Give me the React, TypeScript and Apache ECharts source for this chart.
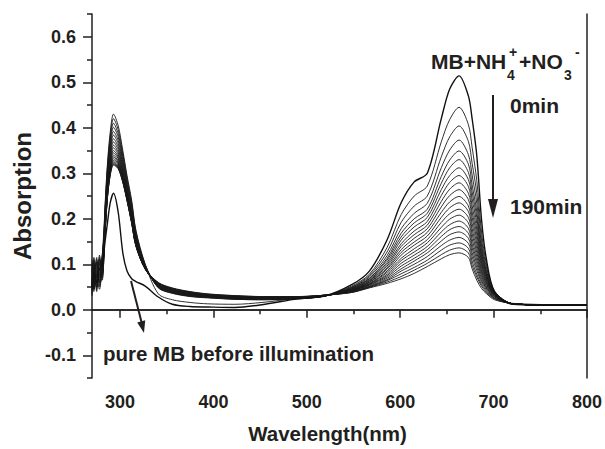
import React, { useEffect, useRef } from "react";
import * as echarts from "echarts";

// wavelength grid (nm) shared by every spectrum
const WAVELENGTH_NM = [270, 272, 275, 278, 281, 284, 286.5, 289.5, 293, 298, 303, 307.5, 312.5, 317, 327, 341, 356, 375, 394, 423, 452, 490, 519, 548, 567, 586, 601, 615, 629, 644, 653, 663, 673, 677, 682, 687, 692, 701, 721, 778, 800];

// pure MB before illumination
const PURE_MB = [0.05, 0.08, 0.06, 0.09, 0.1, 0.15, 0.19, 0.235, 0.256, 0.215, 0.125, 0.085, 0.068, 0.062, 0.052, 0.028, 0.012, 0.007, 0.006, 0.005, 0.011, 0.024, 0.03, 0.055, 0.085, 0.154, 0.235, 0.281, 0.3, 0.42, 0.485, 0.514, 0.47, 0.42, 0.339, 0.2, 0.115, 0.04, 0.012, 0.01, 0.01];

// MB + NH4+ + NO3- under illumination, 0 .. 190 min
const MIN_0 = [0.055, 0.095, 0.07, 0.11, 0.085, 0.23, 0.32, 0.39, 0.43, 0.405, 0.35, 0.295, 0.24, 0.175, 0.1, 0.035, 0.022, 0.016, 0.013, 0.012, 0.016, 0.025, 0.03, 0.052, 0.078, 0.137, 0.209, 0.25, 0.272, 0.369, 0.418, 0.445, 0.407, 0.357, 0.284, 0.173, 0.104, 0.041, 0.013, 0.01, 0.01];
const MIN_10 = [0.08, 0.06, 0.105, 0.075, 0.12, 0.225, 0.313, 0.381, 0.42, 0.396, 0.343, 0.29, 0.235, 0.172, 0.099, 0.048, 0.036, 0.029, 0.026, 0.023, 0.022, 0.024, 0.03, 0.05, 0.075, 0.127, 0.192, 0.228, 0.25, 0.336, 0.38, 0.404, 0.37, 0.322, 0.256, 0.157, 0.096, 0.04, 0.013, 0.01, 0.01];
const MIN_20 = [0.04, 0.1, 0.065, 0.095, 0.09, 0.219, 0.306, 0.373, 0.41, 0.387, 0.337, 0.284, 0.23, 0.168, 0.098, 0.049, 0.037, 0.03, 0.027, 0.023, 0.022, 0.024, 0.03, 0.049, 0.072, 0.119, 0.178, 0.212, 0.234, 0.312, 0.351, 0.373, 0.341, 0.296, 0.234, 0.145, 0.089, 0.038, 0.013, 0.01, 0.01];
const MIN_30 = [0.09, 0.05, 0.115, 0.06, 0.105, 0.215, 0.3, 0.365, 0.401, 0.38, 0.33, 0.279, 0.226, 0.165, 0.097, 0.049, 0.037, 0.03, 0.027, 0.024, 0.023, 0.025, 0.03, 0.048, 0.069, 0.113, 0.168, 0.2, 0.221, 0.293, 0.329, 0.349, 0.32, 0.275, 0.216, 0.135, 0.085, 0.037, 0.013, 0.01, 0.01];
const MIN_40 = [0.065, 0.11, 0.045, 0.1, 0.08, 0.21, 0.294, 0.357, 0.392, 0.372, 0.325, 0.275, 0.222, 0.162, 0.096, 0.05, 0.038, 0.031, 0.028, 0.024, 0.023, 0.025, 0.03, 0.047, 0.068, 0.109, 0.16, 0.191, 0.212, 0.278, 0.312, 0.33, 0.302, 0.259, 0.203, 0.128, 0.081, 0.037, 0.013, 0.01, 0.01];
const MIN_50 = [0.1, 0.07, 0.09, 0.05, 0.115, 0.205, 0.288, 0.351, 0.384, 0.365, 0.319, 0.27, 0.218, 0.16, 0.094, 0.051, 0.039, 0.031, 0.028, 0.025, 0.024, 0.025, 0.03, 0.046, 0.066, 0.104, 0.153, 0.182, 0.203, 0.264, 0.295, 0.312, 0.286, 0.244, 0.19, 0.12, 0.078, 0.036, 0.013, 0.01, 0.01];
const MIN_60 = [0.035, 0.085, 0.06, 0.12, 0.07, 0.201, 0.283, 0.344, 0.376, 0.358, 0.314, 0.266, 0.214, 0.157, 0.094, 0.051, 0.039, 0.032, 0.029, 0.025, 0.024, 0.025, 0.031, 0.045, 0.064, 0.1, 0.145, 0.173, 0.194, 0.251, 0.28, 0.295, 0.271, 0.229, 0.177, 0.114, 0.074, 0.036, 0.013, 0.01, 0.01];
const MIN_70 = [0.075, 0.045, 0.1, 0.065, 0.11, 0.197, 0.278, 0.338, 0.369, 0.352, 0.309, 0.262, 0.211, 0.155, 0.093, 0.052, 0.04, 0.033, 0.029, 0.026, 0.024, 0.026, 0.031, 0.045, 0.063, 0.096, 0.139, 0.165, 0.186, 0.238, 0.265, 0.279, 0.256, 0.215, 0.166, 0.107, 0.071, 0.035, 0.013, 0.01, 0.01];
const MIN_80 = [0.11, 0.08, 0.055, 0.09, 0.095, 0.194, 0.273, 0.332, 0.362, 0.346, 0.305, 0.259, 0.208, 0.152, 0.092, 0.053, 0.041, 0.033, 0.03, 0.026, 0.025, 0.026, 0.031, 0.044, 0.061, 0.092, 0.132, 0.157, 0.178, 0.226, 0.251, 0.264, 0.242, 0.203, 0.155, 0.102, 0.068, 0.034, 0.013, 0.01, 0.01];
const MIN_90 = [0.05, 0.115, 0.075, 0.045, 0.1, 0.19, 0.269, 0.326, 0.356, 0.341, 0.301, 0.256, 0.205, 0.151, 0.091, 0.053, 0.041, 0.034, 0.03, 0.027, 0.025, 0.026, 0.031, 0.043, 0.06, 0.089, 0.126, 0.149, 0.17, 0.214, 0.237, 0.249, 0.228, 0.19, 0.145, 0.096, 0.065, 0.033, 0.013, 0.01, 0.01];
const MIN_100 = [0.085, 0.06, 0.11, 0.08, 0.075, 0.187, 0.265, 0.321, 0.35, 0.336, 0.297, 0.253, 0.203, 0.148, 0.091, 0.054, 0.042, 0.035, 0.031, 0.027, 0.026, 0.027, 0.031, 0.043, 0.058, 0.085, 0.12, 0.142, 0.162, 0.203, 0.224, 0.235, 0.216, 0.178, 0.135, 0.09, 0.062, 0.033, 0.013, 0.01, 0.01];
const MIN_110 = [0.03, 0.09, 0.05, 0.105, 0.085, 0.185, 0.262, 0.317, 0.345, 0.332, 0.294, 0.25, 0.2, 0.147, 0.09, 0.055, 0.043, 0.035, 0.031, 0.027, 0.026, 0.027, 0.031, 0.042, 0.057, 0.082, 0.113, 0.134, 0.154, 0.192, 0.211, 0.221, 0.203, 0.167, 0.126, 0.085, 0.059, 0.032, 0.013, 0.01, 0.01];
const MIN_120 = [0.095, 0.04, 0.085, 0.07, 0.12, 0.182, 0.258, 0.313, 0.34, 0.327, 0.291, 0.248, 0.198, 0.146, 0.09, 0.055, 0.043, 0.036, 0.032, 0.028, 0.026, 0.027, 0.031, 0.042, 0.056, 0.078, 0.108, 0.127, 0.147, 0.181, 0.199, 0.208, 0.191, 0.156, 0.117, 0.08, 0.056, 0.031, 0.013, 0.01, 0.01];
const MIN_130 = [0.06, 0.105, 0.04, 0.115, 0.065, 0.18, 0.256, 0.309, 0.336, 0.324, 0.289, 0.246, 0.197, 0.144, 0.09, 0.056, 0.044, 0.036, 0.032, 0.028, 0.027, 0.027, 0.031, 0.041, 0.055, 0.075, 0.102, 0.12, 0.139, 0.171, 0.187, 0.195, 0.179, 0.145, 0.109, 0.075, 0.053, 0.03, 0.013, 0.01, 0.01];
const MIN_140 = [0.07, 0.055, 0.095, 0.06, 0.11, 0.178, 0.253, 0.306, 0.332, 0.321, 0.287, 0.245, 0.195, 0.143, 0.09, 0.057, 0.045, 0.037, 0.032, 0.029, 0.027, 0.028, 0.032, 0.041, 0.054, 0.072, 0.096, 0.113, 0.132, 0.161, 0.176, 0.183, 0.168, 0.136, 0.101, 0.07, 0.05, 0.029, 0.013, 0.01, 0.01];
const MIN_150 = [0.045, 0.1, 0.07, 0.09, 0.08, 0.175, 0.251, 0.303, 0.328, 0.318, 0.284, 0.243, 0.193, 0.142, 0.089, 0.057, 0.045, 0.038, 0.033, 0.029, 0.027, 0.028, 0.032, 0.04, 0.052, 0.069, 0.09, 0.107, 0.125, 0.151, 0.165, 0.171, 0.157, 0.126, 0.093, 0.065, 0.048, 0.028, 0.013, 0.01, 0.01];
const MIN_160 = [0.105, 0.065, 0.05, 0.11, 0.095, 0.174, 0.249, 0.301, 0.325, 0.315, 0.283, 0.242, 0.192, 0.141, 0.089, 0.058, 0.046, 0.038, 0.033, 0.03, 0.028, 0.028, 0.032, 0.039, 0.051, 0.066, 0.085, 0.1, 0.117, 0.141, 0.153, 0.159, 0.146, 0.117, 0.086, 0.061, 0.045, 0.026, 0.013, 0.01, 0.01];
const MIN_170 = [0.055, 0.085, 0.105, 0.055, 0.075, 0.172, 0.247, 0.298, 0.322, 0.313, 0.281, 0.241, 0.191, 0.141, 0.09, 0.059, 0.047, 0.039, 0.034, 0.03, 0.028, 0.028, 0.032, 0.039, 0.05, 0.064, 0.079, 0.093, 0.109, 0.131, 0.142, 0.147, 0.135, 0.107, 0.078, 0.056, 0.042, 0.025, 0.013, 0.01, 0.01];
const MIN_180 = [0.09, 0.045, 0.08, 0.1, 0.115, 0.171, 0.246, 0.297, 0.32, 0.311, 0.281, 0.24, 0.19, 0.14, 0.09, 0.059, 0.047, 0.039, 0.034, 0.031, 0.029, 0.029, 0.032, 0.038, 0.049, 0.061, 0.073, 0.087, 0.102, 0.121, 0.131, 0.136, 0.125, 0.098, 0.072, 0.052, 0.039, 0.024, 0.013, 0.01, 0.01];
const MIN_190 = [0.065, 0.095, 0.06, 0.075, 0.09, 0.17, 0.245, 0.295, 0.318, 0.31, 0.28, 0.24, 0.19, 0.14, 0.09, 0.06, 0.048, 0.04, 0.035, 0.031, 0.029, 0.029, 0.032, 0.038, 0.048, 0.058, 0.068, 0.08, 0.095, 0.112, 0.121, 0.125, 0.115, 0.09, 0.065, 0.047, 0.036, 0.022, 0.014, 0.011, 0.011];

const TIMES_MIN = [0, 10, 20, 30, 40, 50, 60, 70, 80, 90, 100, 110, 120, 130, 140, 150, 160, 170, 180, 190];
const TIME_CURVES = [MIN_0, MIN_10, MIN_20, MIN_30, MIN_40, MIN_50, MIN_60, MIN_70, MIN_80, MIN_90, MIN_100, MIN_110, MIN_120, MIN_130, MIN_140, MIN_150, MIN_160, MIN_170, MIN_180, MIN_190];

const X_MAJOR_TICKS = [300, 400, 500, 600, 700, 800];
const X_MINOR_TICKS = [350, 450, 550, 650, 750];
const Y_MAJOR_TICKS = [-0.1, 0, 0.1, 0.2, 0.3, 0.4, 0.5, 0.6];
const Y_MINOR_TICKS = [-0.15, -0.05, 0.05, 0.15, 0.25, 0.35, 0.45, 0.55, 0.65];

const FONT = "'Liberation Sans', Arial, Helvetica, sans-serif";
const INK = "#231f20";

export default function App() {
  const ref = useRef<HTMLDivElement>(null);

  useEffect(() => {
    if (!ref.current) return;
    const chart = echarts.init(ref.current, undefined, { renderer: "svg" });

    const toPairs = (vals: number[]) => WAVELENGTH_NM.map((x, i) => [x, vals[i]]);

    const series: any[] = TIME_CURVES.map((vals, i) => ({
      type: "line",
      name: `${TIMES_MIN[i]}min`,
      data: toPairs(vals),
      symbol: "none",
      smooth: 0.3,
      silent: true,
      lineStyle: { color: "#1a1a1a", width: 0.9 },
      z: 2,
    }));
    series.push({
      type: "line",
      name: "pure MB",
      data: toPairs(PURE_MB),
      symbol: "none",
      smooth: 0.3,
      silent: true,
      lineStyle: { color: "#111", width: 1.4 },
      z: 3,
    });

    const bold = (size: number) => `bold ${size}px ${FONT}`;

    const option: any = {
      animation: false,
      backgroundColor: "#fff",
      grid: { left: 92, right: 16, top: 14, bottom: 69, containLabel: false },
      xAxis: [
        {
          type: "value",
          min: 270,
          max: 800,
          position: "bottom",
          name: "Wavelength(nm)",
          nameLocation: "middle",
          nameGap: 45,
          nameTextStyle: {
            fontFamily: FONT,
            fontWeight: "bold",
            fontSize: 20.5,
            color: INK,
            padding: [0, 24, 0, 0],
          },
          axisLine: { show: true, lineStyle: { color: INK, width: 1.5 } },
          axisTick: { show: true, customValues: X_MAJOR_TICKS, length: 8, lineStyle: { color: INK, width: 1.5 } },
          axisLabel: {
            show: true,
            customValues: X_MAJOR_TICKS,
            margin: 15,
            fontFamily: FONT,
            fontWeight: "bold",
            fontSize: 18,
            color: INK,
          },
          splitLine: { show: false },
        },
        {
          type: "value",
          min: 270,
          max: 800,
          position: "bottom",
          axisLine: { show: false },
          axisTick: { show: true, customValues: X_MINOR_TICKS, length: 4.5, lineStyle: { color: INK, width: 1.5 } },
          axisLabel: { show: false },
          splitLine: { show: false },
        },
        {
          type: "value",
          min: 270,
          max: 800,
          position: "top",
          axisLine: { show: true, lineStyle: { color: INK, width: 1.5 } },
          axisTick: { show: false },
          axisLabel: { show: false },
          splitLine: { show: false },
        },
      ],
      yAxis: [
        {
          type: "value",
          min: -0.15,
          max: 0.65,
          position: "left",
          name: "Absorption",
          nameLocation: "middle",
          nameGap: 56,
          nameTextStyle: { fontFamily: FONT, fontWeight: "bold", fontSize: 24, color: INK },
          axisLine: { show: true, lineStyle: { color: INK, width: 1.5 } },
          axisTick: { show: true, customValues: Y_MAJOR_TICKS, length: 9, lineStyle: { color: INK, width: 1.5 } },
          axisLabel: {
            show: true,
            customValues: Y_MAJOR_TICKS,
            formatter: (v: number) => v.toFixed(1),
            margin: 16,
            fontFamily: FONT,
            fontWeight: "bold",
            fontSize: 18,
            color: INK,
          },
          splitLine: { show: false },
        },
        {
          type: "value",
          min: -0.15,
          max: 0.65,
          position: "left",
          axisLine: { show: false },
          axisTick: { show: true, customValues: Y_MINOR_TICKS, length: 5, lineStyle: { color: INK, width: 1.5 } },
          axisLabel: { show: false },
          splitLine: { show: false },
        },
        {
          type: "value",
          min: -0.15,
          max: 0.65,
          position: "right",
          axisLine: { show: true, lineStyle: { color: INK, width: 1.5 } },
          axisTick: { show: false },
          axisLabel: { show: false },
          splitLine: { show: false },
        },
      ],
      series,
      graphic: [
        // label of the illuminated mixture
        { type: "text", style: { text: "MB+NH", x: 431, y: 61, font: bold(21), fill: INK, align: "left", verticalAlign: "middle" } },
        { type: "text", style: { text: "4", x: 507, y: 75, font: bold(14), fill: INK, align: "left", verticalAlign: "middle" } },
        { type: "text", style: { text: "+", x: 509, y: 52, font: bold(14), fill: INK, align: "left", verticalAlign: "middle" } },
        { type: "text", style: { text: "+NO", x: 519, y: 61, font: bold(21), fill: INK, align: "left", verticalAlign: "middle" } },
        { type: "text", style: { text: "3", x: 564, y: 75, font: bold(14), fill: INK, align: "left", verticalAlign: "middle" } },
        { type: "text", style: { text: "-", x: 575, y: 52, font: bold(14), fill: INK, align: "left", verticalAlign: "middle" } },
        // time arrow
        { type: "line", shape: { x1: 493, y1: 95, x2: 493, y2: 203 }, style: { stroke: INK, lineWidth: 2 } },
        { type: "polygon", shape: { points: [[488, 199], [498, 199], [493, 218]] }, style: { fill: INK } },
        { type: "text", style: { text: "0min", x: 510, y: 105, font: bold(21), fill: INK, align: "left", verticalAlign: "middle" } },
        { type: "text", style: { text: "190min", x: 510, y: 206, font: bold(21), fill: INK, align: "left", verticalAlign: "middle" } },
        // pure MB annotation
        { type: "line", shape: { x1: 131, y1: 281, x2: 141.5, y2: 322 }, style: { stroke: INK, lineWidth: 2 } },
        { type: "polygon", shape: { points: [[137.2, 322.4], [145.2, 320.3], [144, 333]] }, style: { fill: INK } },
        { type: "text", style: { text: "pure MB before illumination", x: 103, y: 353, font: bold(20.5), fill: INK, align: "left", verticalAlign: "middle" } },
      ],
    };

    chart.setOption(option);
    return () => chart.dispose();
  }, []);

  return (
    <div
      ref={ref}
      style={{ position: "fixed", left: 0, top: 0, width: 605, height: 449, background: "#fff" }}
    />
  );
}
